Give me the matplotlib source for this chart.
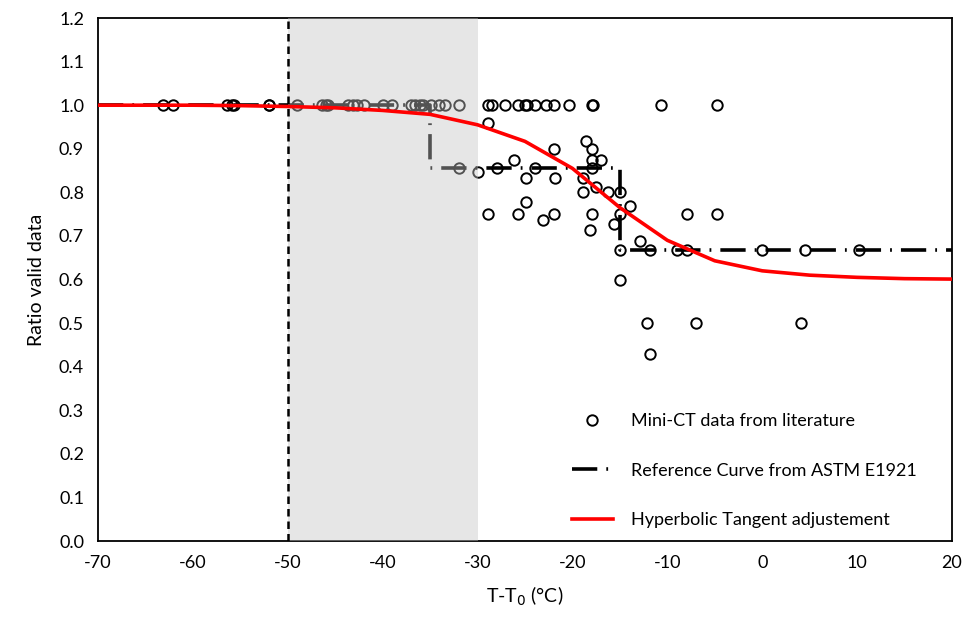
import numpy as np
import matplotlib
matplotlib.use('Agg')
import matplotlib.pyplot as plt
from matplotlib.patches import Rectangle

plt.rcParams['font.family'] = ['Lato', 'DejaVu Sans']
plt.rcParams['axes.unicode_minus'] = False

# Mini-CT data (T-T0, ratio)
mini_x = [-63.2, -62.1, -56.4, -55.9, -55.7, -52.0, -52.0, -49.0, -46.4, -46.0,
          -45.8, -43.6, -43.1, -42.7, -42.0, -40.0, -39.0, -37.0, -36.6, -36.1,
          -35.7, -34.9, -34.1, -33.4, -32.0, -28.9, -28.5, -27.1, -25.7, -25.0,
          -24.8, -23.9, -22.8, -21.9, -20.4, -17.9, -17.8, -10.7, -4.8,
          -28.9, -18.6, -21.9, -17.9, -26.2, -17.9, -17.0, -27.9, -23.9, -17.9,
          -32.0, -30.0, -24.9, -21.8, -18.9, -17.5, -18.9, -16.2, -15.0, -24.9,
          -13.9, -28.9, -25.7, -21.9, -17.9, -15.0, -7.9, -4.8, -23.1, -15.6,
          -18.1, -12.9, -15.0, -11.8, -9.0, -7.9, 0.0, 4.5, 10.2, -15.0,
          -12.1, -7.0, 4.1, -11.8]
mini_y = [1.0] * 39 + \
         [0.96, 0.917, 0.9, 0.9, 0.875, 0.875, 0.875, 0.857, 0.857, 0.857,
          0.857, 0.846, 0.833, 0.833, 0.833, 0.812, 0.8, 0.8, 0.8, 0.778,
          0.769, 0.75, 0.75, 0.75, 0.75, 0.75, 0.75, 0.75, 0.737, 0.727,
          0.714, 0.688, 0.667, 0.667, 0.667, 0.667, 0.667, 0.667, 0.667, 0.6,
          0.5, 0.5, 0.5, 0.429]

# ASTM E1921 reference curve (step)
astm_x = [-70, -35, -35, -15, -15, 20]
astm_y = [1.0, 1.0, 0.857, 0.857, 0.667, 0.667]

# hyperbolic tangent adjustment, read every 5 degC
tanh_x = [-70, -65, -60, -55, -50, -45, -40, -35, -30, -25, -20, -15, -10, -5, 0, 5, 10, 15, 20]
tanh_y = [1.0, 1.0, 1.0, 0.999, 0.997, 0.994, 0.988, 0.979, 0.955, 0.917, 0.855,
          0.765, 0.690, 0.643, 0.620, 0.610, 0.605, 0.602, 0.601]

fig = plt.figure(figsize=(9.76, 6.22), dpi=100)
ax = fig.add_axes([0.1004, 0.1302, 0.875, 0.8408])

ax.plot(mini_x, mini_y, 'o', mfc='none', mec='black', ms=7.5, mew=1.4,
        linestyle='none', label='Mini-CT data from literature', zorder=3)
ax.plot(astm_x, astm_y, color='black', lw=2.6, dashes=(7, 2.5, 0.5, 2.5),
        label='Reference Curve from ASTM E1921', zorder=2)

# shaded band sits on top of the data, greying it
ax.add_patch(Rectangle((-50, 0), 20, 1.2, facecolor='#c4c4c4', alpha=0.42,
                       edgecolor='none', zorder=4))
ax.axvline(-50, color='black', lw=1.8, ls=(0, (3, 2)), zorder=5)

ax.plot(tanh_x, tanh_y, color='red', lw=2.6, label='Hyperbolic Tangent adjustement',
        zorder=6)

ax.set_xlim(-70, 20)
ax.set_ylim(0, 1.2)
ax.set_xticks(np.arange(-70, 21, 10))
ax.set_yticks(np.arange(0, 1.21, 0.1))
ax.set_yticklabels(['%.1f' % v for v in np.arange(0, 1.21, 0.1)])
ax.tick_params(length=0, labelsize=13, pad=10)
for s in ax.spines.values():
    s.set_linewidth(1.3)

ax.set_xlabel('T-T$_0$ (°C)', fontsize=14, labelpad=10)
ax.set_ylabel('Ratio valid data', fontsize=14, labelpad=10)

ax.legend(loc='lower right', bbox_to_anchor=(0.978, -0.006), frameon=False,
          fontsize=13, labelspacing=1.85, handlelength=2.3, handletextpad=1.0)

fig.savefig('out.png', dpi=100)
